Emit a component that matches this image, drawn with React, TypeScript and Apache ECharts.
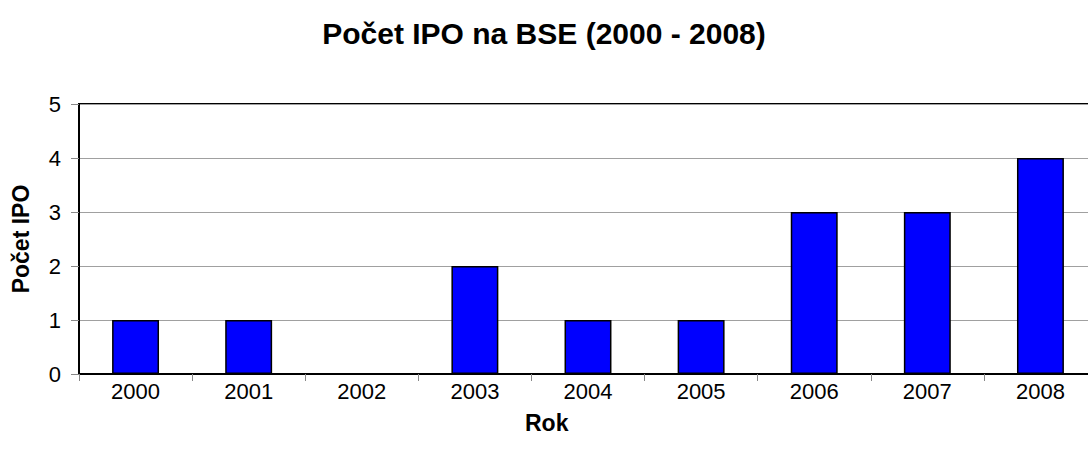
import React, { useEffect, useRef } from "react";
import * as echarts from "echarts";

const years = ["2000", "2001", "2002", "2003", "2004", "2005", "2006", "2007", "2008"];
const ipoCounts = [1, 1, 0, 2, 1, 1, 3, 3, 4];
const yTicks = [0, 1, 2, 3, 4, 5];

const titleText = "Počet IPO na BSE (2000 - 2008)";
const xName = "Rok";
const yName = "Počet IPO";

const FONT = "'Liberation Sans', Arial, sans-serif";

export default function App() {
  const ref = useRef<HTMLDivElement>(null);
  useEffect(() => {
    document.body.style.margin = "0";
    if (!ref.current) return;
    const chart = echarts.init(ref.current, null, { renderer: "svg" });
    chart.setOption({
      animation: false,
      backgroundColor: "#ffffff",
      title: {
        text: titleText,
        left: "center",
        top: 13,
        textStyle: { fontFamily: FONT, fontSize: 30, fontWeight: "bold", color: "#000" },
      },
      graphic: [
        {
          type: "text",
          left: 525,
          top: 411,
          style: {
            text: xName,
            font: "bold 23px 'Liberation Sans', Arial, sans-serif",
            fill: "#000",
          },
        },
      ],
      grid: {
        left: 79,
        top: 104,
        width: 1018,
        height: 270,
        outerBoundsMode: "none",
        containLabel: false,
        show: true,
        borderColor: "#000",
        borderWidth: 2,
        backgroundColor: "transparent",
      },
      xAxis: {
        type: "category",
        data: years,
        axisLine: { show: true, lineStyle: { color: "#000", width: 2 } },
        axisTick: { show: true, length: 7, lineStyle: { color: "#888", width: 1 } },
        axisLabel: { fontFamily: FONT, fontSize: 22, color: "#000", margin: 6 },
        splitLine: { show: false },
      },
      yAxis: {
        type: "value",
        min: yTicks[0],
        max: yTicks[yTicks.length - 1],
        interval: 1,
        name: yName,
        nameLocation: "middle",
        nameGap: 47,
        nameTextStyle: { fontFamily: FONT, fontSize: 23, fontWeight: "bold", color: "#000" },
        axisLine: { show: true, lineStyle: { color: "#000", width: 2 } },
        axisTick: { show: true, length: 8, lineStyle: { color: "#888", width: 1 } },
        axisLabel: { fontFamily: FONT, fontSize: 22, color: "#000", margin: 18 },
        splitLine: { show: true, lineStyle: { color: "#a0a0a0", width: 1 } },
      },
      series: [
        {
          type: "bar",
          data: ipoCounts,
          barWidth: "41.5%",
          itemStyle: { color: "#0000ff", borderColor: "#000", borderWidth: 1.5 },
        },
      ],
    });
    return () => chart.dispose();
  }, []);
  return <div ref={ref} style={{ width: 1088, height: 460 }} />;
}
